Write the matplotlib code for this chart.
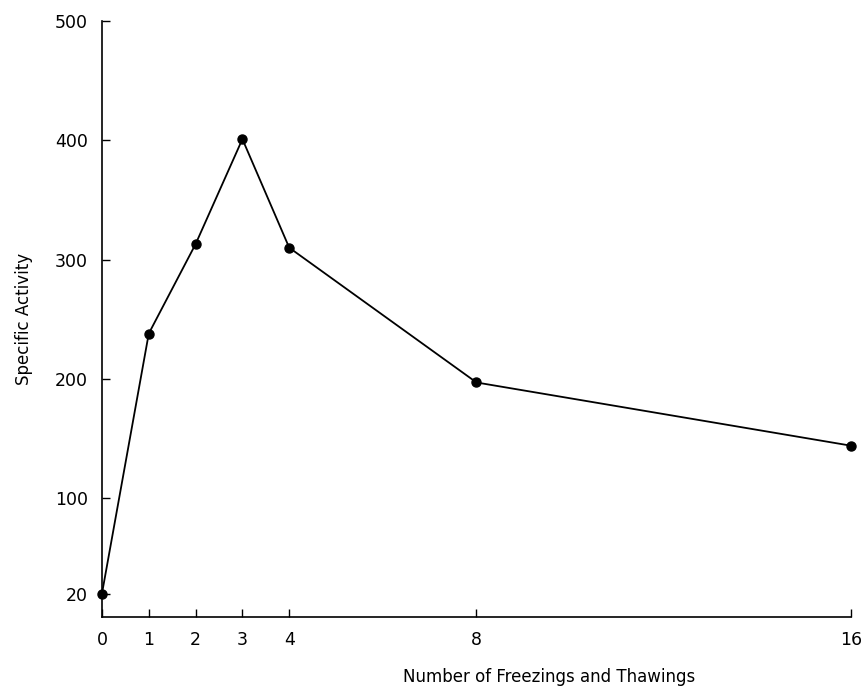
import matplotlib
matplotlib.use("Agg")
import matplotlib.pyplot as plt

freezings = [0, 1, 2, 3, 4, 8, 16]
activity = [20, 238, 313, 401, 310, 197, 144]
x_ticks = [0, 1, 2, 3, 4, 8, 16]
y_ticks = [20, 100, 200, 300, 400, 500]

plt.rcParams['font.family'] = ['DejaVu Sans']

fig = plt.figure(figsize=(8.64, 6.89), dpi=100)
ax = fig.add_axes([0.118, 0.1038, 0.867, 0.8657])

ax.plot(freezings, activity, color='black', linewidth=1.3, marker='o',
        markersize=6.5, clip_on=False, zorder=3)

ax.set_xlim(0, 16)
ax.set_ylim(0, 500)
ax.set_xticks(x_ticks)
ax.set_xticklabels([str(v) for v in x_ticks])
ax.set_yticks(y_ticks)
ax.set_yticklabels([str(v) for v in y_ticks])

for s in ['top', 'right']:
    ax.spines[s].set_visible(False)
for s in ['left', 'bottom']:
    ax.spines[s].set_linewidth(1.2)

ax.tick_params(axis='y', direction='in', length=6, width=1.0, labelsize=12.5, pad=10)
ax.tick_params(axis='x', direction='in', length=5.5, width=1.0, labelsize=12.5, pad=10)

fig.text(0.636, 0.018, 'Number of Freezings and Thawings', fontsize=12,
         ha='center', va='center')
ax.set_ylabel('Specific Activity', fontsize=12, labelpad=16)

fig.savefig('out.png', dpi=100)
